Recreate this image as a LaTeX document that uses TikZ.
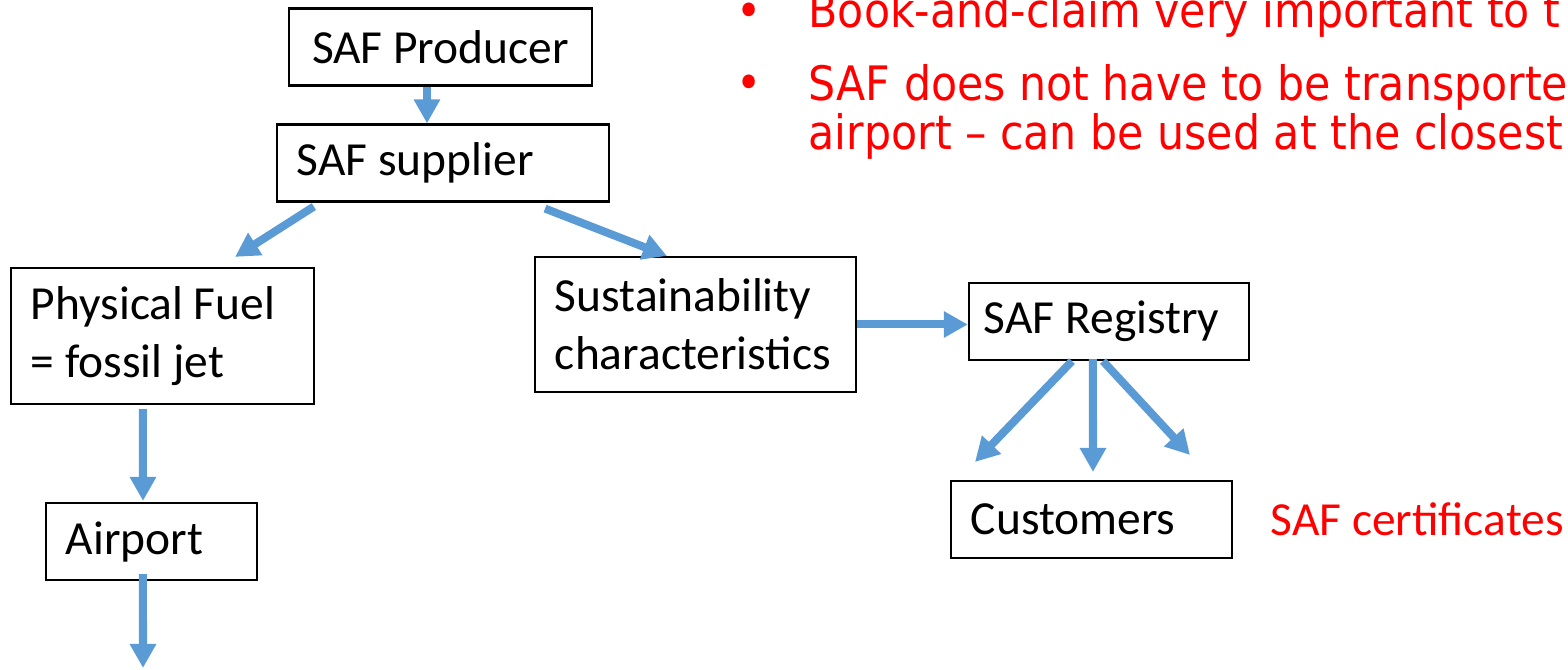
\documentclass[tikz,border=0pt]{standalone}
\usepackage{fontspec}
\setmainfont{Carlito}
\newfontfamily\notefont{DejaVu Sans Condensed}
\usetikzlibrary{arrows.meta}
\definecolor{flowblue}{HTML}{5B9BD5}
\tikzstyle{box}=[shape=rectangle,
                draw=black,
                line width=0.6pt,
                inner xsep=0.2cm,
                align=flush left,
                minimum height=0.77cm,
                font=\fontsize{13.5}{16.5}\selectfont]
\tikzstyle{flow}=[draw=flowblue,
                line width=0.08cm,
                -{Triangle[length=0.24cm,width=0.25cm]}]
\tikzstyle{note}=[anchor=base west,
                inner sep=0pt,
                text=red,
                font=\notefont\fontsize{13.5}{14.2}\selectfont]

\begin{document}
\begin{tikzpicture}[x=0.01cm,y=-0.01cm]
\useasboundingbox (0,0) rectangle (1568,670);

% chain on the left
\node[box,minimum width=3.03cm] (prod) at (440.5,47) {SAF Producer};
\node[box,text width=2.92cm] (sup) at (443,163) {SAF supplier};
\node[box,text width=2.63cm,minimum height=1.36cm] (phys) at (162.5,336)
     {Physical Fuel\\= fossil jet};
\node[box,text width=1.71cm] (apt) at (151.5,541.5) {Airport};

% certificate side
\node[box,text width=2.81cm,minimum height=1.35cm] (sust) at (695.5,324.5)
     {Sustainability\\characteristics};
\node[box,text width=2.5cm,inner xsep=0.15cm] (reg) at (1109,321.5) {SAF Registry};
\node[box,text width=2.41cm] (cust) at (1091.5,519.5) {Customers};
\node[note,anchor=west] (cert) at (1270,519.5)
     {\setmainfont{Carlito}\fontsize{13.5}{16}\selectfont SAF certificates};

% remarks (cut by the page edge)
\node[note] (b1) at (736,28) {•};
\node[note] (t1) at (808,28) {Book-and-claim very important to t};
\node[note] (b2) at (736,100) {•};
\node[note,align=left] (t2) at (808,150)
     {SAF does not have to be transported\\airport – can be used at the closest};

% free ends
\coordinate (down) at (143,668);
\coordinate (c1) at (975,462);
\coordinate (c2) at (1093,472);
\coordinate (c3) at (1190,455);

% arrows
\draw[flow] ([xshift=-0.135cm]prod.south) -- ([xshift=-0.135cm]prod.south |- sup.north);
\draw[flow] ([xshift=0.38cm,yshift=-0.04cm]sup.south west)
         -- ([xshift=0.725cm,yshift=0.1cm]phys.north);
\draw[flow] ([xshift=1.02cm,yshift=-0.06cm]sup.south)
         -- ([xshift=1.33cm]sust.north west);
\draw[flow] ([xshift=-0.195cm,yshift=-0.04cm]phys.south)
         -- ([xshift=-0.085cm,yshift=0.01cm]apt.north);
\draw[flow] ([xshift=-0.085cm,yshift=0.07cm]apt.south) -- (down);
\draw[flow] (sust.east) -- (sust.east -| reg.west);
\draw[flow] ([xshift=-0.37cm]reg.south) -- (c1);
\draw[flow] ([xshift=-0.16cm,yshift=0.02cm]reg.south) -- (c2);
\draw[flow] ([xshift=-0.06cm]reg.south) -- (c3);
\end{tikzpicture}
\end{document}
